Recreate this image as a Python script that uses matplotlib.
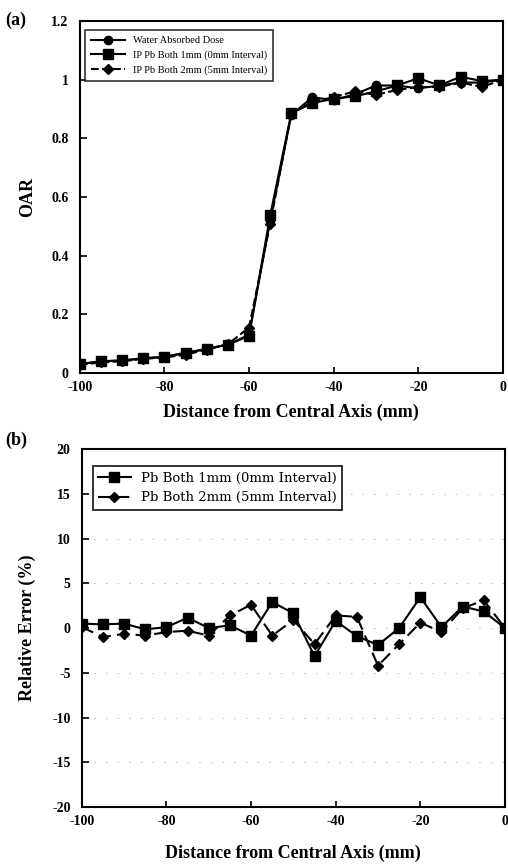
#!/usr/bin/env python3
'''OAR profile and relative error plot (two panels)'''
import numpy as np
import matplotlib.pyplot as plt

# distance from central axis (mm)
distance = [-100, -95, -90, -85, -80, -75, -70, -65, -60, -55, -50,
            -45, -40, -35, -30, -25, -20, -15, -10, -5, 0]

# panel (a) OAR values
water_dose = [0.030, 0.040, 0.042, 0.050, 0.055, 0.068, 0.082, 0.097, 0.130, 0.520, 0.880,
              0.940, 0.930, 0.950, 0.980, 0.980, 0.970, 0.980, 0.990, 0.990, 1.000]
pb_1mm = [0.030, 0.040, 0.043, 0.050, 0.055, 0.069, 0.082, 0.097, 0.126, 0.537, 0.886,
          0.920, 0.935, 0.943, 0.960, 0.980, 1.005, 0.980, 1.010, 0.995, 1.000]
pb_2mm = [0.028, 0.036, 0.040, 0.048, 0.053, 0.062, 0.080, 0.098, 0.155, 0.509, 0.885,
          0.925, 0.940, 0.960, 0.948, 0.965, 0.975, 0.975, 0.990, 0.975, 1.000]

# panel (b) relative error (%)
err_1mm = [0.5, 0.4, 0.5, -0.15, 0.1, 1.15, 0.0, 0.3, -0.85, 2.9, 1.65,
           -3.15, 0.8, -0.9, -1.9, 0.0, 3.45, 0.1, 2.4, 1.85, 0.0]
err_2mm = [0.1, -1.0, -0.65, -0.85, -0.45, -0.3, -0.85, 1.4, 2.6, -0.85, 0.9,
           -1.8, 1.4, 1.25, -4.2, -1.8, 0.6, -0.45, 2.2, 3.1, 0.0]

plt.rcParams['font.family'] = ['Liberation Serif', 'DejaVu Serif']
plt.rcParams['axes.unicode_minus'] = False

fig = plt.figure(figsize=(5.08, 8.66), dpi=100)
ax1 = fig.add_axes([0.157, 0.5693, 0.833, 0.4065])
ax2 = fig.add_axes([0.161, 0.0681, 0.833, 0.4134])

# --- panel (a)
ax1.plot(distance, water_dose, '-', color='black', marker='o', ms=6, lw=1.5,
         label='Water Absorbed Dose')
ax1.plot(distance, pb_1mm, '-', color='black', marker='s', ms=6.5, lw=1.5,
         label='IP Pb Both 1mm (0mm Interval)')
ax1.plot(distance, pb_2mm, '--', color='black', marker='D', ms=5, lw=1.5,
         label='IP Pb Both 2mm (5mm Interval)')
ax1.set_xlim(-100, 0)
ax1.set_ylim(0, 1.2)
ax1.set_xticks([-100, -80, -60, -40, -20, 0])
ax1.set_yticks([0, 0.2, 0.4, 0.6, 0.8, 1.0, 1.2])
ax1.set_yticklabels(['0', '0.2', '0.4', '0.6', '0.8', '1', '1.2'])
ax1.set_ylabel('OAR', fontsize=13, fontweight='bold', labelpad=11)
ax1.set_xlabel('Distance from Central Axis (mm)', fontsize=13, fontweight='bold', labelpad=7)
leg1 = ax1.legend(loc='upper left', fontsize=7.5, frameon=True, fancybox=False,
                  edgecolor='black', handlelength=3.2, borderpad=0.6,
                  bbox_to_anchor=(0.0, 0.99))
leg1.get_frame().set_linewidth(1.2)
fig.text(0.01, 0.976, '(a)', fontsize=13, fontweight='bold', va='center')

# --- panel (b)
ax2.plot(distance, err_1mm, '-', color='black', marker='s', ms=7, lw=1.5,
         label='Pb Both 1mm (0mm Interval)')
ax2.plot(distance, err_2mm, '--', color='black', marker='D', ms=5, lw=1.5,
         dashes=(6, 3), label='Pb Both 2mm (5mm Interval)')
ax2.set_xlim(-100, 0)
ax2.set_ylim(-20, 20)
ax2.set_xticks([-100, -80, -60, -40, -20, 0])
ax2.set_yticks(np.arange(-20, 21, 5))
ax2.yaxis.grid(True, linestyle=(0, (2, 12)), color='0.7', lw=0.6)
ax2.set_ylabel('Relative Error (%)', fontsize=13, fontweight='bold', labelpad=12)
ax2.set_xlabel('Distance from Central Axis (mm)', fontsize=13, fontweight='bold', labelpad=12)
leg2 = ax2.legend(loc='upper left', prop={'family': 'DejaVu Serif', 'size': 9.5},
                  frameon=True, fancybox=False, edgecolor='black',
                  handlelength=2.5, borderpad=0.4, bbox_to_anchor=(0.01, 0.97))
leg2.get_frame().set_linewidth(1.4)
fig.text(0.01, 0.492, '(b)', fontsize=13, fontweight='bold', va='center')

for ax in (ax1, ax2):
    for sp in ax.spines.values():
        sp.set_linewidth(1.5)
    ax.tick_params(axis='x', direction='in', length=4, width=1.2, pad=6)
    ax.tick_params(axis='y', direction='in', length=5, width=1.2, pad=8)
    for lab in ax.get_xticklabels() + ax.get_yticklabels():
        lab.set_fontsize(10)
        lab.set_fontweight('bold')

plt.savefig('out.png', dpi=100)
